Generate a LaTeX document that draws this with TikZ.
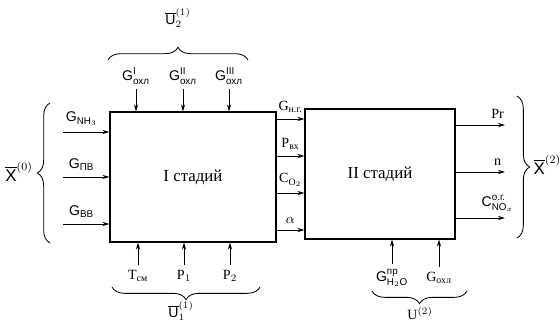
\documentclass[tikz,border=0pt]{standalone}
\usepackage{amsmath}
\usepackage{fontspec}
\setmainfont{Liberation Serif}
\setsansfont{Liberation Sans}
\usetikzlibrary{arrows.meta,decorations.pathreplacing}

\begin{document}
\begin{tikzpicture}[
  x=0.025cm, y=-0.025cm,
  stage/.style={draw, line width=0.8pt, minimum height=3.25cm, font=\large},
  arr/.style={-{Stealth[length=5pt,width=3pt]}, line width=0.6pt},
  brc/.style={decorate, decoration={brace, amplitude=9pt}, line width=0.6pt},
]
\useasboundingbox (0,0) rectangle (560,323);

% ---- Stages ----
\node[stage, minimum width=4.15cm] (st1) at (193,177) {I стадий};
\node[stage, minimum width=3.75cm] (st2) at (380,174) {II стадий};

% ---- Inputs of stage I ----
\foreach \n/\y/\t in {nh/132/{$\textsf{G}_{\textsf{NH}_3}$},
                      pv/177/{$\textsf{G}_{\textsf{ПВ}}$},
                      vv/224/{$\textsf{G}_{\textsf{ВВ}}$}} {
  \coordinate (\n) at (63,\y);
  \draw[arr] (\n) -- (\n -| st1.west) node[pos=0.4, above=1pt] {\t};
}
\draw[brc] (50,243) -- (50,103);
\node (x0) at (19,172) {\large$\overline{\textsf{X}}^{(0)}$};

% ---- Cooling streams (top) ----
\foreach \n/\x/\s in {g1/136/I, g2/183/II, g3/229/III} {
  \node (\n) at (\x,76) {$\textsf{G}^{\textsf{\s}}_{\textsf{охл}}$};
  \draw[arr] (\n.south) -- (\n.south |- st1.north);
}
\draw[brc] (108,60) -- (248,60);
\node (u2) at (178,18) {$\overline{\textsf{U}}^{(1)}_{2}$};

% ---- Controls of stage I (bottom) ----
\foreach \n/\x/\t in {tsm/138/{T$_{\text{см}}$}, p1/184/{P$_1$}, p2/230/{P$_2$}} {
  \node (\n) at (\x,276) {\t};
  \draw[arr] (\n.north) -- (\n.north |- st1.south);
}
\draw[brc] (260,287) -- (112,287);
\node (u1) at (181,311) {$\overline{\textsf{U}}^{(1)}_{1}$};

% ---- Stage I -> stage II ----
\foreach \n/\y/\t in {ng/119/{G$_{\text{н.г.}}$}, vx/156/{P$_{\text{вх}}$},
                      o2/193/{C$_{\text{O}_2}$}, al/230/{$\alpha$}} {
  \coordinate (\n) at (st1.east |- 0,\y);
  \draw[arr] (\n) -- (\n -| st2.west) node[midway, above=1pt] {\t};
}

% ---- Outputs of stage II ----
\foreach \n/\y/\t in {pr/125/Pr, nn/172/n,
                      no/218/{$\textsf{C}^{\textsf{o.г.}}_{\textsf{NO}_x}$}} {
  \coordinate (\n) at (505,\y);
  \draw[arr] (\n -| st2.east) -- (\n) node[pos=0.85, above=1pt] {\t};
}
\draw[brc] (517,96) -- (517,238);
\node[anchor=west, inner sep=1pt] (x2) at (532,165) {\large$\overline{\textsf{X}}^{(2)}$};

% ---- Controls of stage II (bottom) ----
\foreach \n/\x/\t in {gw/392/{$\textsf{G}^{\textsf{пр}}_{\textsf{H}_2\textsf{O}}$},
                      gc/439/{G$_{\text{охл}}$}} {
  \node (\n) at (\x,278) {\t};
  \draw[arr] (\n.north) -- (\n.north |- st2.south);
}
\draw[brc] (467,291) -- (372,291);
\node (u3) at (420,313) {U$^{(2)}$};

\end{tikzpicture}
\end{document}
